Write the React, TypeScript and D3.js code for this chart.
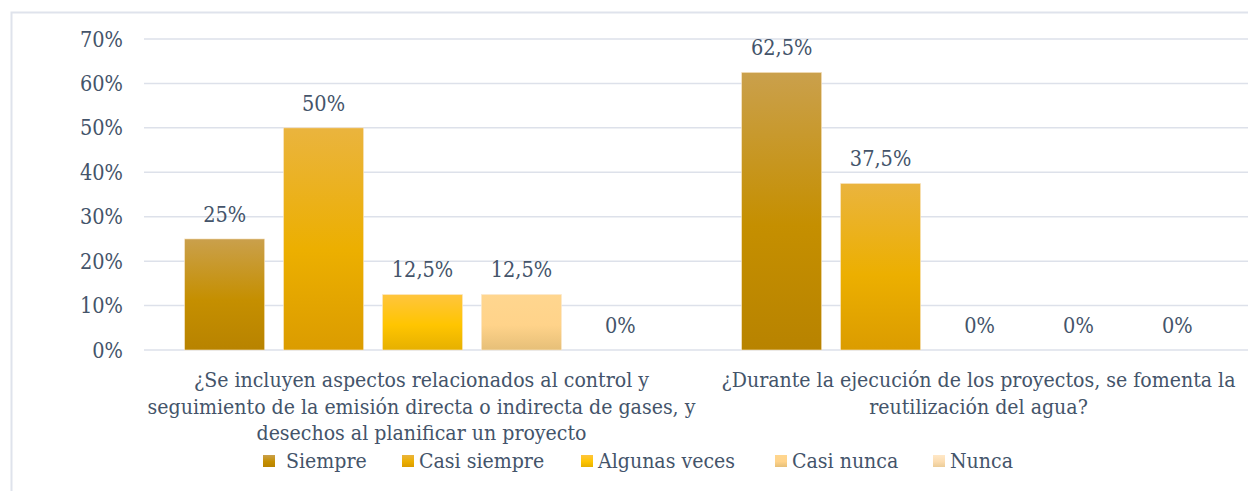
import React from 'react';
import * as d3 from 'd3';

const categories = ['q1', 'q2'];
const categoryLines = [
  [
    '¿Se incluyen aspectos relacionados al control y',
    'seguimiento de la emisión directa o indirecta de gases, y',
    'desechos al planificar un proyecto',
  ],
  ['¿Durante la ejecución de los proyectos, se fomenta la', 'reutilización del agua?'],
];
const seriesNames = ['Siempre', 'Casi siempre', 'Algunas veces', 'Casi nunca', 'Nunca'];
const seriesValues = [
  [0.25, 0.625],
  [0.5, 0.375],
  [0.125, 0],
  [0.125, 0],
  [0, 0],
];
const valueLabels = [
  ['25%', '62,5%'],
  ['50%', '37,5%'],
  ['12,5%', '0%'],
  ['12,5%', '0%'],
  ['0%', '0%'],
];
const yTicks = [0, 0.1, 0.2, 0.3, 0.4, 0.5, 0.6, 0.7];

// top, middle, bottom stops per series
const gradients = [
  ['#caa04c', '#c58f00', '#b88300'],
  ['#eab43e', '#ecaf00', '#db9c00'],
  ['#ffc53e', '#ffc500', '#e6b000'],
  ['#ffd68f', '#ffd38a', '#e6bf78'],
  ['#ffe8c8', '#fbdcb0', '#ebcc98'],
];

const W = 1248;
const H = 491;
const TEXT = '#44546a';
const txt = { fontFamily: "'DejaVu Serif Condensed', 'DejaVu Serif', serif", fontStretch: 'condensed' as const };
const FS = 21.5;
const FS_CAT = 21.1;

export default function App() {
  const y = d3.scaleLinear().domain([0, 0.7]).range([350, 39]);
  const x0 = d3.scaleBand<string>().domain(categories).range([144, 1258]);
  const x1 = d3
    .scaleBand<number>()
    .domain(d3.range(seriesNames.length))
    .range([0, x0.bandwidth()])
    .paddingInner(0.19)
    .paddingOuter(0.41);

  const legendX = [263, 402, 581, 775, 933];

  return (
    <svg
      width={W}
      height={H}
      style={{ position: 'absolute', left: 0, top: 0, background: '#fff' }}
    >
      <defs>
        {gradients.map((g, i) => (
          <linearGradient key={i} id={`grad${i}`} x1="0" y1="0" x2="0" y2="1">
            <stop offset="0" stopColor={g[0]} />
            <stop offset="0.55" stopColor={g[1]} />
            <stop offset="1" stopColor={g[2]} />
          </linearGradient>
        ))}
      </defs>
      <rect x={11.5} y={12.5} width={W} height={H} fill="none" stroke="#dfe3ec" strokeWidth={2} />

      {yTicks.map((t) => (
        <g key={t}>
          <line x1={144} x2={W} y1={y(t)} y2={y(t)} stroke="#dde1ea" strokeWidth={1.5} />
          <text x={123} y={y(t)} dy="0.35em" textAnchor="end" fontSize={FS} fill={TEXT} style={txt}>
            {d3.format('.0%')(t)}
          </text>
        </g>
      ))}

      {categories.map((c, ci) => (
        <g key={c} transform={`translate(${x0(c)},0)`}>
          {seriesNames.map((s, si) => {
            const v = seriesValues[si][ci];
            const bx = x1(si)!;
            return (
              <g key={s}>
                {v > 0 && (
                  <rect
                    x={bx}
                    y={y(v)}
                    width={x1.bandwidth()}
                    height={y(0) - y(v)}
                    fill={`url(#grad${si})`}
                    stroke="#fbe9d0"
                    strokeWidth={0.6}
                  />
                )}
                <text
                  x={bx + x1.bandwidth() / 2}
                  y={y(v) - 17}
                  textAnchor="middle"
                  fontSize={FS}
                  fill={TEXT}
                  style={txt}
                >
                  {valueLabels[si][ci]}
                </text>
              </g>
            );
          })}
          {categoryLines[ci].map((ln, li) => (
            <text
              key={li}
              x={x0.bandwidth() / 2 - 1}
              y={387 + li * 26.5}
              textAnchor="middle"
              fontSize={FS_CAT}
              fill={TEXT}
              style={txt}
            >
              {ln}
            </text>
          ))}
        </g>
      ))}

      {seriesNames.map((s, si) => (
        <g key={s} transform={`translate(${legendX[si]},461)`}>
          <rect x={0} y={-6} width={12} height={12} fill={`url(#grad${si})`} />
          <text x={si === 0 ? 23 : 17} y={0} dy="0.35em" fontSize={FS_CAT} fill={TEXT} style={txt}>
            {s}
          </text>
        </g>
      ))}
    </svg>
  );
}
